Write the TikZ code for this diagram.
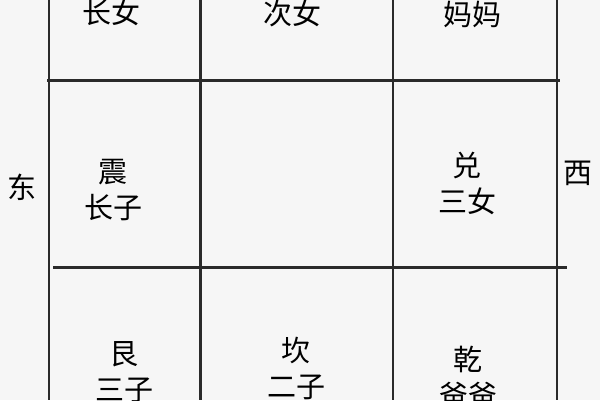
\documentclass[tikz,border=0pt]{standalone}
\usepackage{fontspec}
\newfontfamily\cjk{Noto Sans CJK SC}
\definecolor{bg}{HTML}{F6F6F6}
\definecolor{ln}{HTML}{2A2A2A}
\tikzset{
  gridline/.style={draw=ln, line width=2.2pt},
  lbl/.style={font=\cjk\fontsize{29}{36}\selectfont, text=black, align=center, inner sep=0pt}
}
\begin{document}
\begin{tikzpicture}[x=1pt,y=-1pt]
\fill[bg] (0,0) rectangle (600,400);
\useasboundingbox (0,0) rectangle (600,400);
% grid
\draw[gridline] (49,0) -- (49,400);
\draw[gridline] (200.5,0) -- (200.5,400);
\draw[gridline] (393,0) -- (393,400);
\draw[gridline] (557,0) -- (557,400);
\draw[gridline] (47,80.5) -- (560,80.5);
\draw[gridline] (53,267.5) -- (567,267.5);
% labels
\node[lbl] (zn) at (111,12) {长女};
\node[lbl] (cn) at (292,13) {次女};
\node[lbl] (mm) at (472,14) {妈妈};
\node[lbl] (dong) at (22,187) {东};
\node[lbl] (xi) at (578,173) {西};
\node[lbl] (zhen) at (113,190) {震\\长子};
\node[lbl] (dui) at (467,183.5) {兑\\三女};
\node[lbl] (gen) at (124,372.5) {艮\\三子};
\node[lbl] (kan) at (296,368.5) {坎\\二子};
\node[lbl] (qian) at (468,377) {乾\\爸爸};
\end{tikzpicture}
\end{document}
